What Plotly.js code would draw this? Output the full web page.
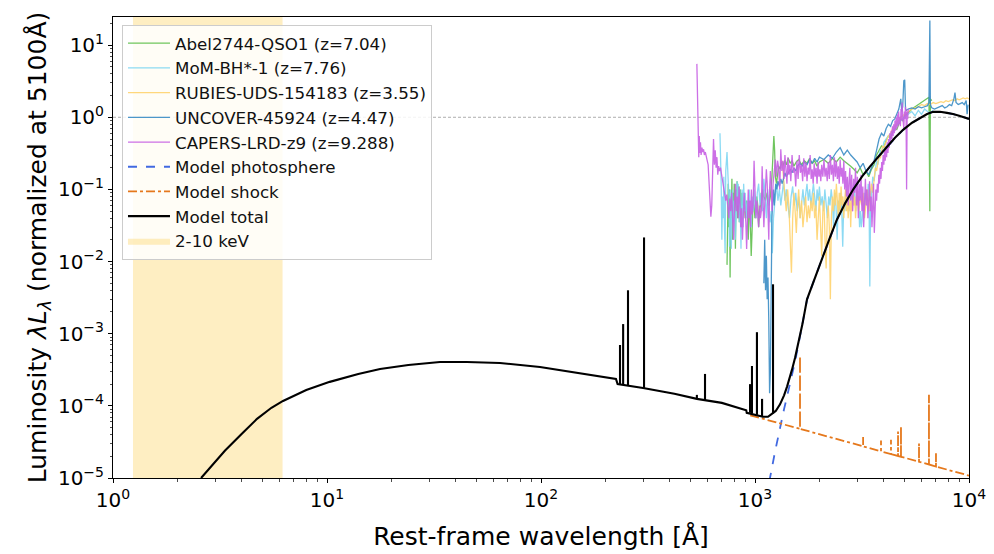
<!DOCTYPE html>
<html><head><meta charset="utf-8">
<script src="https://cdn.plot.ly/plotly-3.0.1.min.js"></script>
<style>html,body{margin:0;padding:0;background:#fff}#chart{width:994px;height:554px}</style>
</head><body><div id="chart"></div>
<script>
// ---------- data (rest-frame wavelength in Angstrom, luminosity normalized at 5100A) ----------
const kevBand = [1.24, 6.2];

const abelWl = [740,745,750,755,760,765,770,775,780,785,790,795,800,805,810,815,820,825,830,835,840,845,850,855,860,870,880,890,900,910,920,930,940,950,960,970,980,990,1000,1010,1020,1030,1040,1050,1060,1070,1080,1090,1100,1120,1140,1160,1180,1200,1215,1225,1235,1245,1260,1275,1290,1310,1330,1350,1375,1400,1430,1460,1490,1520,1560,1600,1650,1700,1750,1800,1850,1900,1950,2000,2100,2200,2300,2400,2500,2600,2700,2800,2900,3000,3100,3200,3300,3400,3500,3600,3700,3800,3900,4000,4100,4200,4300,4400,4500,4600,4700,4800,4900,5000,5200,5400,5600,5800,6000,6200,6400,6500,6560,6600,6700];
const abelL = [0.009,0.05,0.12,0.03,0.1,0.006,0.08,0.04,0.14,0.02,0.09,0.05,0.12,0.07,0.015,0.1,0.06,0.13,0.04,0.08,0.11,0.035,0.07,0.1,0.03,0.09,0.06,0.08,0.04,0.07,0.05,0.02,0.06,0.04,0.012,0.05,0.07,0.06,0.04,0.05,0.08,0.06,0.03,0.05,0.06,0.09,0.07,0.1,0.08,0.07,0.09,0.06,0.08,0.15,0.5,0.55,0.35,0.15,0.12,0.17,0.21,0.19,0.24,0.21,0.25,0.22,0.27,0.23,0.25,0.21,0.24,0.26,0.22,0.25,0.23,0.27,0.23,0.25,0.21,0.24,0.26,0.23,0.27,0.24,0.28,0.25,0.23,0.21,0.19,0.17,0.2,0.16,0.18,0.15,0.19,0.22,0.3,0.35,0.4,0.38,0.48,0.55,0.52,0.62,0.7,0.68,0.8,0.95,0.9,1.05,1.15,1.3,1.4,1.5,1.6,1.7,1.8,1.9,0.05,1.8,1.7];

const momWl = [686,690,695,700,705,710,715,720,725,730,735,740,745,750,755,760,765,770,775,780,785,790,795,800,805,810,815,820,825,830,835,840,845,850,855,860,865,870,875,880,885,890,895,900,910,920,930,940,950,960,970,980,990,1000,1010,1025,1040,1055,1070,1085,1100,1115,1130,1145,1160,1175,1190,1205,1220,1240,1260,1280,1300,1320,1340,1360,1380,1400,1425,1450,1475,1500,1525,1550,1575,1600,1625,1650,1675,1700,1725,1750,1775,1800,1825,1850,1875,1900,1925,1950,1975,2000,2030,2060,2090,2120,2150,2180,2210,2240,2270,2300,2330,2360,2390,2420,2450,2480,2510,2540,2570,2600,2630,2660,2690,2720,2750,2780,2810,2840,2870,2900,2930,2960,2990,3020,3050,3080,3110,3140,3170,3200,3230,3260,3290,3320,3350,3380,3410,3440,3470,3500,3550,3600,3650,3700,3750,3800,3850,3900,3950,4000,4100,4200,4300,4400,4500,4600,4700,4800,4900,5000,5200,5400,5600,5800,6000,6200,6400,6600,6800];
const momL = [0.6,0.35,0.12,0.02,0.08,0.04,0.15,0.03,0.013,0.18,0.28,0.33,0.2,0.12,0.08,0.016,0.1,0.03,0.015,0.06,0.1,0.05,0.035,0.07,0.05,0.02,0.04,0.09,0.13,0.06,0.12,0.08,0.035,0.1,0.04,0.015,0.05,0.1,0.07,0.03,0.12,0.08,0.05,0.09,0.04,0.07,0.05,0.1,0.06,0.03,0.08,0.05,0.1,0.07,0.04,0.09,0.12,0.06,0.09,0.05,0.14,0.08,0.04,0.1,0.06,0.035,0.05,0.013,0.04,0.08,0.12,0.07,0.1,0.06,0.09,0.13,0.07,0.1,0.06,0.04,0.08,0.11,0.06,0.09,0.05,0.08,0.04,0.07,0.1,0.06,0.09,0.12,0.07,0.1,0.06,0.09,0.12,0.08,0.05,0.1,0.07,0.11,0.06,0.08,0.05,0.1,0.07,0.04,0.08,0.06,0.1,0.07,0.03,0.09,0.06,0.02,0.07,0.05,0.09,0.06,0.016,0.07,0.05,0.1,0.06,0.08,0.05,0.09,0.07,0.1,0.06,0.12,0.07,0.05,0.1,0.06,0.08,0.03,0.05,0.03,0.04,0.07,0.05,0.09,0.06,0.1,0.07,0.12,0.08,0.0045,0.06,0.1,0.15,0.13,0.2,0.25,0.22,0.3,0.35,0.3,0.4,0.45,0.5,0.55,0.6,0.65,0.7,0.8,0.85,0.9,0.95,1.0,1.1,1.2,1.05,1.25,1.1,1.3,1.2,1.15,1.25];

const rubiesWl = [1340,1360,1380,1400,1420,1440,1460,1480,1500,1520,1540,1560,1580,1600,1625,1650,1675,1700,1725,1750,1775,1800,1825,1850,1875,1900,1925,1950,1975,2000,2025,2050,2075,2100,2125,2150,2175,2200,2225,2250,2275,2300,2325,2350,2375,2400,2425,2450,2475,2500,2525,2550,2575,2600,2625,2650,2675,2700,2725,2750,2775,2800,2825,2850,2875,2900,2925,2950,2975,3000,3050,3100,3150,3200,3250,3300,3350,3400,3450,3500,3550,3600,3650,3700,3750,3800,3850,3900,3950,4000,4100,4200,4300,4400,4500,4600,4700,4800,4900,5000,5200,5400,5600,5800,6000,6200,6400,6600,6800,7000,7200,7400,7600,7800,8000,8200,8400,8600,8800,9000,9200,9400,9600,9800,10000];
const rubiesL = [0.25,0.12,0.08,0.05,0.1,0.06,0.015,0.007,0.04,0.09,0.05,0.025,0.06,0.1,0.04,0.07,0.03,0.05,0.08,0.035,0.06,0.04,0.07,0.05,0.09,0.04,0.06,0.02,0.05,0.08,0.03,0.012,0.05,0.07,0.02,0.008,0.04,0.06,0.03,0.003,0.04,0.08,0.05,0.1,0.06,0.12,0.07,0.04,0.09,0.05,0.11,0.06,0.08,0.04,0.07,0.1,0.05,0.08,0.04,0.06,0.09,0.03,0.07,0.05,0.1,0.06,0.08,0.04,0.07,0.1,0.05,0.08,0.06,0.09,0.04,0.07,0.1,0.05,0.08,0.12,0.09,0.15,0.2,0.18,0.25,0.3,0.27,0.35,0.4,0.38,0.45,0.55,0.6,0.7,0.75,0.85,0.9,1.0,1.05,1.1,1.2,1.3,1.35,1.4,1.5,1.45,1.55,1.5,1.6,1.55,1.6,1.65,1.6,1.7,1.65,1.7,1.75,1.7,1.8,1.75,1.8,1.85,1.8,1.85,1.8];

const uncoverWl = [1100,1110,1120,1130,1140,1150,1160,1170,1180,1190,1200,1210,1220,1230,1240,1250,1265,1280,1300,1320,1340,1360,1380,1400,1430,1460,1490,1520,1550,1580,1620,1660,1700,1750,1800,1850,1900,1950,2000,2100,2200,2300,2400,2500,2600,2700,2800,2900,3000,3100,3200,3300,3400,3500,3600,3700,3800,3900,4000,4100,4200,4300,4400,4500,4600,4700,4800,4850,4900,4960,5007,5050,5100,5200,5400,5600,5800,6000,6200,6400,6500,6563,6600,6700,6900,7100,7300,7500,7700,7900,8100,8300,8500,8600,8700,8900,9100,9300,9500,9700,9800,9900];
const uncoverL = [0.005,0.02,0.004,0.012,0.003,0.006,0.0015,0.00015,0.0003,0.005,0.04,0.07,0.1,0.06,0.09,0.12,0.1,0.13,0.11,0.14,0.12,0.15,0.17,0.15,0.17,0.19,0.17,0.2,0.18,0.21,0.23,0.21,0.24,0.22,0.26,0.23,0.27,0.24,0.28,0.26,0.3,0.27,0.33,0.38,0.3,0.35,0.3,0.27,0.24,0.2,0.23,0.18,0.16,0.2,0.25,0.35,0.5,0.6,0.55,0.7,0.8,0.75,0.9,0.95,1.1,1.3,1.8,1.2,1.4,3.2,3.3,1.3,1.25,1.3,1.35,1.3,1.4,1.35,1.4,1.45,1.6,22,1.5,1.35,1.3,1.35,1.4,1.45,1.35,1.4,1.5,1.45,1.8,2.2,1.6,1.5,1.55,1.6,1.5,1.7,1.1,1.5];

const capersWl = [535,538,540,543,546,549,552,556,560,565,570,575,580,586,592,598,604,610,616,622,628,634,640,646,652,658,664,670,676,682,690,698,706,714,722,730,738,746,754,762,770,778,786,794,802,810,818,826,834,842,850,858,866,874,882,890,898,906,914,922,930,938,946,954,962,970,980,990,1000,1010,1020,1030,1040,1050,1060,1070,1080,1090,1100,1110,1120,1130,1140,1150,1160,1170,1180,1190,1200,1215,1230,1245,1260,1275,1290,1305,1320,1335,1350,1365,1380,1395,1410,1425,1440,1455,1470,1490,1510,1530,1550,1570,1590,1610,1630,1650,1670,1690,1710,1730,1750,1770,1790,1810,1830,1850,1870,1890,1910,1930,1950,1970,1990,2010,2030,2050,2075,2100,2125,2150,2175,2200,2225,2250,2275,2300,2325,2350,2375,2400,2425,2450,2475,2500,2525,2550,2575,2600,2625,2650,2675,2700,2725,2750,2775,2800,2830,2860,2890,2920,2950,2980,3010,3040,3070,3100,3130,3160,3190,3220,3250,3280,3310,3340,3370,3400,3430,3460,3490,3520,3550,3580,3610,3640,3670,3700,3730,3760,3790,3820,3850,3880,3910,3940,3970,4000,4030,4060,4090,4120,4150,4180,4210,4240,4270,4300,4330,4360,4390,4420,4450,4480,4510,4540,4570,4600,4630,4660,4690,4720,4750,4780,4810,4840,4870,4900,4930,4960,4990,5020,5050,5080,5110,5140,5170,5200];
const capersL = [5.5,3.0,1.6,0.9,0.28,0.55,0.32,0.45,0.3,0.38,0.33,0.36,0.3,0.33,0.27,0.25,0.22,0.12,0.05,0.042,0.06,0.35,0.5,0.22,0.35,0.2,0.28,0.16,0.21,0.18,0.2,0.16,0.13,0.11,0.095,0.07,0.085,0.06,0.04,0.075,0.05,0.09,0.035,0.02,0.06,0.12,0.05,0.08,0.04,0.11,0.065,0.03,0.055,0.02,0.045,0.09,0.05,0.035,0.015,0.06,0.1,0.04,0.07,0.03,0.1,0.045,0.06,0.25,0.1,0.04,0.07,0.05,0.03,0.06,0.04,0.05,0.21,0.07,0.03,0.06,0.1,0.19,0.12,0.04,0.02,0.1,0.18,0.13,0.05,0.12,0.2,0.26,0.15,0.25,0.2,0.1,0.36,0.18,0.25,0.14,0.3,0.2,0.12,0.28,0.16,0.22,0.13,0.3,0.17,0.2,0.11,0.25,0.14,0.3,0.17,0.22,0.13,0.27,0.15,0.24,0.13,0.2,0.16,0.3,0.14,0.19,0.12,0.23,0.15,0.2,0.12,0.24,0.15,0.19,0.13,0.22,0.15,0.26,0.15,0.2,0.13,0.24,0.14,0.3,0.16,0.22,0.13,0.28,0.15,0.25,0.14,0.21,0.12,0.26,0.15,0.2,0.12,0.25,0.1,0.18,0.08,0.15,0.06,0.13,0.2,0.07,0.16,0.05,0.14,0.09,0.2,0.06,0.15,0.04,0.12,0.07,0.16,0.05,0.11,0.03,0.09,0.14,0.06,0.1,0.04,0.09,0.13,0.05,0.08,0.03,0.07,0.12,0.025,0.06,0.1,0.07,0.12,0.09,0.16,0.12,0.2,0.14,0.24,0.18,0.3,0.22,0.35,0.25,0.4,0.28,0.45,0.32,0.5,0.38,0.6,0.42,0.65,0.5,0.75,0.55,0.8,0.6,0.9,0.65,1.0,0.7,1.1,0.75,1.2,0.8,1.0,0.75,1.3,0.9,1.6,1.0,0.85,0.7,1.2,0.95,1.4,1.1,0.1,1.2,0.95,1.3];

// model continuum
const totalWl = [2.58,3.0,3.34,4.0,4.71,5.5,6.23,8.0,10.3,14,17.7,24,33.7,45,64.3,98.9,152,224,228,300,420,535,700,900,910,915,1000,1089,1150,1200,1250,1309,1367,1412,1458,1490,1538,1590,1666,1750,1907,2080,2241,2416,2634,2870,3162,3443,3757,4140,4510,4920,5420,5900,6370,6790,7318,7890,8420,9075,10000];
const totalL = [1.0e-5,1.69e-5,2.4e-5,4.1e-5,6.6e-5,9.4e-5,1.17e-4,1.66e-4,2.15e-4,2.77e-4,3.24e-4,3.68e-4,4.06e-4,4.06e-4,3.93e-4,3.46e-4,2.86e-4,2.36e-4,2.0e-4,1.77e-4,1.47e-4,1.25e-4,1.1e-4,8.8e-5,8.7e-5,8.0e-5,7.5e-5,7.05e-5,7.05e-5,7.8e-5,8.5e-5,1.05e-4,1.4e-4,1.85e-4,2.5e-4,3.2e-4,4.6e-4,7.2e-4,1.36e-3,3.0e-3,6.05e-3,0.0118,0.0216,0.0383,0.0637,0.099,0.15,0.207,0.284,0.39,0.519,0.67,0.84,0.98,1.11,1.19,1.19,1.15,1.11,1.04,0.95];
// model emission lines on the total: wavelength, continuum base, peak
const lineWl   = [234,242,255,303,535,584,948,968,1021,1079,1214];
const lineBase = [2.0e-4,1.95e-4,1.92e-4,1.77e-4,1.25e-4,1.2e-4,8.0e-5,7.9e-5,7.5e-5,7.1e-5,7.8e-5];
const linePeak = [6.97e-4,1.36e-3,4.0e-3,0.0216,1.42e-4,2.77e-4,2.0e-4,3.57e-4,1.05e-3,1.25e-4,4.84e-3];

const photoWl = [1150,1175,1240,1309,1367,1412,1458,1490,1538,1590,1666,1750,1907,2080,2241,2416,2634,2870,3162,3443,3757,4140,4510,4920,5420,5900,6370,6790,7318,7890,8420,9075,10000];
const photoL  = [5.0e-6,1.0e-5,2.3e-5,5.2e-5,9.0e-5,1.35e-4,2.0e-4,2.7e-4,4.1e-4,6.7e-4,1.31e-3,2.95e-3,6.0e-3,0.0118,0.0216,0.0383,0.0637,0.099,0.15,0.207,0.284,0.39,0.519,0.67,0.84,0.98,1.11,1.19,1.19,1.15,1.11,1.04,0.95];

const shockWl = [950,1623,1623,1623,3200,3200,3200,3880,3880,3880,4320,4320,4320,4660,4660,4660,4810,4810,4810,5840,5840,5840,6500,6500,6500,7010,7010,7010,10000];
const shockL  = [7.4e-5,4.8e-5,4.9e-4,4.8e-5,2.75e-5,3.7e-5,2.75e-5,2.34e-5,3.3e-5,2.34e-5,2.14e-5,3.4e-5,2.14e-5,2.02e-5,4.4e-5,2.02e-5,1.97e-5,5.1e-5,1.97e-5,1.68e-5,3.0e-5,1.68e-5,1.54e-5,1.42e-4,1.54e-5,1.44e-5,2.2e-5,1.44e-5,1.08e-5];

const xTickVals = [1,10,100,1000,10000];
const xTickText = ['10<sup>0</sup>','10<sup>1</sup>','10<sup>2</sup>','10<sup>3</sup>','10<sup>4</sup>'];
const yTickVals = [1e-5,1e-4,1e-3,1e-2,1e-1,1,10];
const yTickText = ['10<sup>−5</sup>','10<sup>−4</sup>','10<sup>−3</sup>','10<sup>−2</sup>','10<sup>−1</sup>','10<sup>0</sup>','10<sup>1</sup>'];

// ---------- build ----------
const FONT = 'DejaVu Sans, Liberation Sans, sans-serif';
function minorVals(k0, k1, maxV) {
  const v = [];
  for (let k = k0; k <= k1; k++) for (let d = 2; d <= 9; d++) { const x = d * Math.pow(10, k); if (x <= maxV) v.push(x); }
  return v;
}
const lx = [], ly = [];
for (let i = 0; i < lineWl.length; i++) { lx.push(lineWl[i], lineWl[i], null); ly.push(lineBase[i], linePeak[i], null); }

const spec = (x, y, name, color, rank) => ({
  x, y, name, type: 'scatter', mode: 'lines', legendrank: rank,
  line: {color, width: 1.3}, opacity: 0.9, hoverinfo: 'skip'
});

const traces = [
  {x: [kevBand[0], kevBand[1], kevBand[1], kevBand[0], kevBand[0]], y: [1e-7, 1e-7, 1e3, 1e3, 1e-7],
   type: 'scatter', mode: 'lines', fill: 'toself', fillcolor: 'rgba(252,214,110,0.42)',
   line: {width: 0, color: 'rgba(252,214,110,0.42)'}, name: '2-10 keV', legendrank: 9, hoverinfo: 'skip'},
  {x: [1, 10000], y: [1, 1], type: 'scatter', mode: 'lines', showlegend: false,
   line: {color: '#999999', width: 0.8, dash: '3px,2px'}, hoverinfo: 'skip'},
  spec(abelWl, abelL, 'Abel2744-QSO1 (z=7.04)', '#5fbf4c', 1),
  spec(momWl, momL, 'MoM-BH*-1 (z=7.76)', '#7fd6f2', 2),
  spec(rubiesWl, rubiesL, 'RUBIES-UDS-154183 (z=3.55)', '#ffd36e', 3),
  spec(uncoverWl, uncoverL, 'UNCOVER-45924 (z=4.47)', '#3a8cc4', 4),
  spec(capersWl, capersL, 'CAPERS-LRD-z9 (z=9.288)', '#c65fe3', 5),
  {x: photoWl, y: photoL, type: 'scatter', mode: 'lines', name: 'Model photosphere', legendrank: 6,
   line: {color: '#4169e1', width: 1.8, dash: 'dash'}, hoverinfo: 'skip'},
  {x: shockWl, y: shockL, type: 'scatter', mode: 'lines', name: 'Model shock', legendrank: 7,
   line: {color: '#e5781c', width: 1.8, dash: 'dashdot'}, hoverinfo: 'skip'},
  {x: totalWl, y: totalL, type: 'scatter', mode: 'lines', name: 'Model total', legendrank: 8,
   line: {color: 'black', width: 2.1}, hoverinfo: 'skip'},
  {x: lx, y: ly, type: 'scatter', mode: 'lines', showlegend: false, connectgaps: false,
   line: {color: 'black', width: 2.1}, hoverinfo: 'skip'}
];

const axisCommon = {
  type: 'log', showgrid: false, zeroline: false, showline: true, linecolor: 'black', linewidth: 1,
  mirror: true, ticks: 'outside', ticklen: 4, tickwidth: 1, tickcolor: 'black',
  tickfont: {family: FONT, size: 20, color: 'black'}, tickmode: 'array'
};

const layout = {
  width: 994, height: 554,
  margin: {l: 113, r: 25, t: 17, b: 76},
  paper_bgcolor: 'white', plot_bgcolor: 'white',
  font: {family: FONT, color: 'black'},
  showlegend: true,
  legend: {x: 0.0105, y: 0.983, xanchor: 'left', yanchor: 'top', bgcolor: 'rgba(255,255,255,0.85)',
           bordercolor: '#cccccc', borderwidth: 1, font: {family: FONT, size: 16.7, color: '#111'},
           traceorder: 'normal', itemwidth: 42, tracegroupgap: 0},
  xaxis: Object.assign({}, axisCommon, {
    range: [0, 4], tickvals: xTickVals, ticktext: xTickText,
    minor: {tickmode: 'array', tickvals: minorVals(0, 3, 1e4), ticks: 'outside', ticklen: 2.5, tickwidth: 0.7, tickcolor: 'black', showgrid: false},
    title: {text: 'Rest-frame wavelength [Å]', font: {family: FONT, size: 25, color: 'black'}, standoff: 16}
  }),
  yaxis: Object.assign({}, axisCommon, {
    range: [-5, 1.39], tickvals: yTickVals, ticktext: yTickText,
    minor: {tickmode: 'array', tickvals: minorVals(-5, 1, 25), ticks: 'outside', ticklen: 2.5, tickwidth: 0.7, tickcolor: 'black', showgrid: false},
    title: {text: 'Luminosity <i>λL</i><sub><i>λ</i></sub> (normalized at 5100Å)', font: {family: FONT, size: 25, color: 'black'}, standoff: 4}
  })
};

Plotly.newPlot('chart', traces, layout, {staticPlot: true, displayModeBar: false});
</script></body></html>
